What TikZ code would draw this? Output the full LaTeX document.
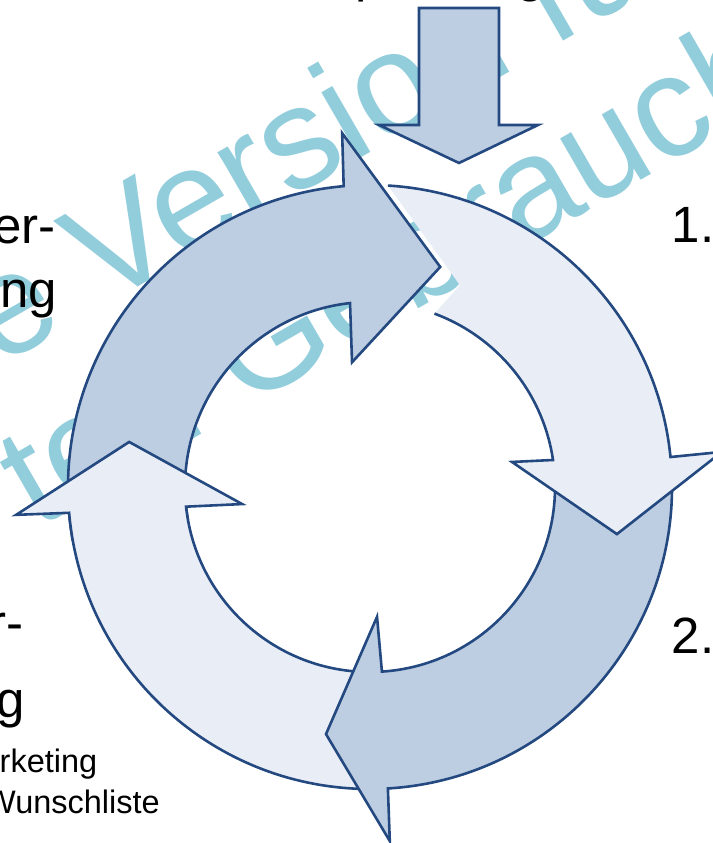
\documentclass[tikz,border=0pt]{standalone}
\usepackage{fontspec}
\setmainfont{Liberation Sans}
\definecolor{rimblue}{RGB}{36,73,128}
\definecolor{darkfill}{RGB}{189,206,226}
\definecolor{lightfill}{RGB}{233,238,246}
\definecolor{wmark}{RGB}{146,205,220}

\begin{document}
\begin{tikzpicture}[x=1pt, y=1pt,
    darrow/.style={draw=rimblue, fill=darkfill, line width=2.6pt, line join=miter},
    larrow/.style={draw=rimblue, fill=lightfill, line width=2.6pt, line join=miter},
    rim/.style={draw=rimblue, line width=2.6pt, line join=miter},
    big/.style={font=\fontsize{51}{60}\selectfont, inner sep=0pt},
    small/.style={font=\fontsize{32.5}{38}\selectfont, inner sep=0pt},
    stamp/.style={text=wmark, font=\fontsize{144}{160}\selectfont, inner sep=0pt,
      rotate=30, anchor=base west}]
    \useasboundingbox (0,0) rectangle (712,-843);

    % Watermark
    \node[stamp] (wm1) at (-2,-368) {e Version für};
    \node[stamp] (wm2) at (36,-530) {ten Gebrauch};

    % Ring of arrows
    \begin{scope}[shift={(370,-487)}]
        % top left
        \draw[darrow] (190:302) arc[start angle=190, end angle=95, radius=302]
            -- (94.5:355) -- (72.3:231) -- (98.2:126) -- (96.2:185)
            arc[start angle=96.2, end angle=190, radius=185] -- cycle;
        % bottom left
        \draw[larrow] (269:302) arc[start angle=269, end angle=184.9, radius=302]
            -- (184.5:355) -- (169.4:245) -- (187.6:129) -- (186.1:185)
            arc[start angle=186.1, end angle=269, radius=185] -- cycle;
        % bottom right
        \draw[darrow] (3:302) arc[start angle=3, end angle=-86.6, radius=302]
            -- (-86.8:354.6) -- (-100.1:251) -- (-86.9:130) -- (-86.3:185)
            arc[start angle=-86.3, end angle=3, radius=185] -- cycle;
        % top right, notched tail
        \fill[lightfill] (86.6:302) arc[start angle=86.6, end angle=5.7, radius=302]
            -- (5.7:353.7) -- (-10.8:251.4) -- (10:144.2) -- (8.4:185)
            arc[start angle=8.4, end angle=69.6, radius=185] -- (66:221) -- cycle;
        \draw[rim] (86.6:302) arc[start angle=86.6, end angle=5.7, radius=302]
            -- (5.7:353.7) -- (-10.8:251.4) -- (10:144.2) -- (8.4:185)
            arc[start angle=8.4, end angle=69.6, radius=185];
    \end{scope}

    % Input arrow
    \draw[darrow] (419,-8) -- (499,-8) -- (499,-125) -- (538,-125) -- (459,-163)
        -- (379,-125) -- (419,-125) -- cycle;

    % Labels
    \node[big, anchor=base west] (topp) at (355,8) {p};
    \node[big, anchor=base west] (topg) at (516,8) {g};
    \node[big, anchor=base east] (left1) at (56,-243) {er-};
    \node[big, anchor=base east] (left2) at (57,-307) {ng};
    \node[big, anchor=base east] (left3) at (24,-640) {r-};
    \node[big, anchor=base east] (left4) at (25.5,-717) {g};
    \node[small, anchor=base east] (mkt) at (97.5,-772) {Marketing};
    \node[small, anchor=base east] (wish) at (160,-813) {Wunschliste};
    \node[big, anchor=base west] (step1) at (671.5,-242) {1.};
    \node[big, anchor=base west] (step2) at (671.5,-653) {2.};
\end{tikzpicture}
\end{document}
